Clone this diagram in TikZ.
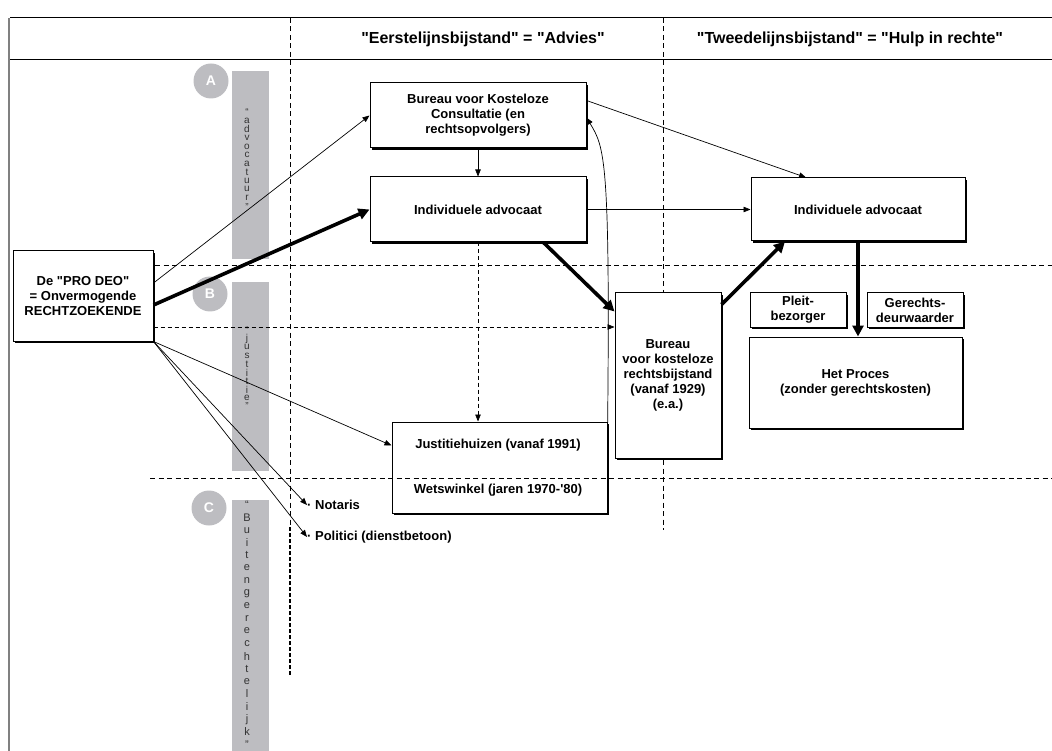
\documentclass[tikz,border=0pt]{standalone}
\usepackage{fontspec}
\setmainfont{Liberation Sans}[Ligatures=TeXOff]
\usetikzlibrary{arrows.meta,shadows}
\definecolor{bargrey}{HTML}{BDBDC1}

\begin{document}
\begin{tikzpicture}[x=1pt, y=-1pt,
        kader/.style={draw, line width=1pt, fill=white, align=center, inner sep=0pt,
            font=\bfseries\fontsize{13}{15}\selectfont,
            drop shadow={shadow xshift=1.6pt, shadow yshift=-1.6pt, opacity=1, fill=black}},
        txt/.style={font=\bfseries\fontsize{13}{15}\selectfont, align=center, inner sep=0pt},
        thinarrow/.style={-{Triangle[length=7pt,width=5.5pt]}, line width=0.7pt},
        dasharrow/.style={thinarrow, dash pattern=on 4pt off 3pt},
        bigarrow/.style={-{Triangle[length=11pt,width=11pt]}, line width=3.6pt},
        gridline/.style={dash pattern=on 5pt off 3.5pt, line width=0.8pt},
        tag/.style={circle, fill=bargrey, minimum size=35pt, inner sep=0pt, text=white,
            font=\bfseries\fontsize{14}{14}\selectfont},
        letter/.style={font=\fontsize{10}{10}\selectfont, text=black!80, inner sep=0pt}]
        \useasboundingbox (0,0) rectangle (1052,751);

        % Frame
        \draw[line width=1pt] (1052,18) -- (10,18);
        \draw[line width=1pt] (10,60) -- (1052,60);
        \draw[line width=1.6pt, black!50] (9,18) -- (9,751);

        % Grid
        \draw[gridline] (290,18) -- (290,527);
        \draw[gridline, line width=1.6pt, dash pattern=on 4pt off 2pt] (290,527) -- (290,675);
        \draw[gridline] (663,18) -- (663,530);
        \draw[gridline] (155,265) -- (1052,265);

        % Headers
        \node[txt, font=\bfseries\fontsize{16}{16}\selectfont] (hadvies) at (483,39) {"Eerstelijnsbijstand" = "Advies"};
        \node[txt, font=\bfseries\fontsize{16}{16}\selectfont] (hhulp) at (850,39) {"Tweedelijnsbijstand" = "Hulp in rechte"};

        % Bars
        \fill[bargrey] (232,71) rectangle (269,259);
        \fill[bargrey] (232,282) rectangle (269,471);
        \fill[bargrey] (232,500) rectangle (269,751);
        \node[tag] (tagA) at (211,81) {A};
        \node[tag] (tagB) at (210,294) {B};
        \node[tag] (tagC) at (209,508) {C};
        \foreach \ch [count=\i] in {“,a,d,v,o,c,a,t,u,u,r,”}
            \node[letter] (advl\i) at (247,{112+8.6*(\i-1)}) {\ch};
        \foreach \ch [count=\i] in {“,j,u,s,t,i,t,i,e,”}
            \node[letter] (jusl\i) at (247,{330+8.5*(\i-1)}) {\ch};
        \foreach \ch [count=\i] in {“,B,u,i,t,e,n,g,e,r,e,c,h,t,e,l,i,j,k,”}
            \node[letter, font=\fontsize{11}{11}\selectfont] (bgl\i) at (247,{505+12.6*(\i-1)}) {\ch};

        % Boxes
        \node[kader, minimum width=140pt, minimum height=90pt] (prodeo) at (83,296)
            {De "PRO DEO"\\= Onvermogende\\RECHTZOEKENDE};
        \node[kader, minimum width=216pt, minimum height=65pt] (consult) at (478,115.5)
            {Bureau voor Kosteloze\\Consultatie (en\\rechtsopvolgers)};
        \node[kader, minimum width=216pt, minimum height=65pt] (advA) at (478,209.5) {Individuele advocaat};
        \node[kader, minimum width=214pt, minimum height=63pt] (advB) at (858,209.5) {Individuele advocaat};
        \node[kader, minimum width=215pt, minimum height=91pt] (justitie) at (499.5,467.5) {};
        \node[txt] (jhuis) at (498,445) {Justitiehuizen (vanaf 1991)};
        \node[txt] (wwinkel) at (498,490) {Wetswinkel (jaren 1970-'80)};
        \node[kader, minimum width=106pt, minimum height=165pt] (bureau) at (668,375.5)
            {Bureau\\voor kosteloze\\rechtsbijstand\\(vanaf 1929)\\(e.a.)};
        \node[kader, minimum width=96pt, minimum height=34pt] (pleit) at (798,310) {Pleit-\\bezorger};
        \node[kader, minimum width=96pt, minimum height=34pt] (deurw) at (915,310) {Gerechts-\\deurwaarder};
        \node[kader, minimum width=213pt, minimum height=91pt] (proces) at (855.5,382.5)
            {Het Proces\\(zonder gerechtskosten)};
        \node[txt, anchor=west] (notaris) at (307,505) {· Notaris};
        \node[txt, anchor=west] (politici) at (307,537) {· Politici (dienstbetoon)};

        % Grid line through the Justitiehuizen box
        \draw[gridline] (150,478) -- (1052,478);

        % Arrows
        \draw[bigarrow] ([yshift=-9pt]prodeo.east) -- (advA.west);
        \draw[thinarrow] ([yshift=13pt]prodeo.east) -- (consult.west);
        \draw[dasharrow] ([yshift=-31pt]prodeo.east) -- ([yshift=-31pt]prodeo.east -| bureau.west);
        \draw[thinarrow] (prodeo.south east) -- ([yshift=22pt]justitie.west);
        \draw[thinarrow] (prodeo.south east) -- (notaris.west);
        \draw[thinarrow] (prodeo.south east) -- (politici.west);
        \draw[thinarrow] (consult.south) -- (advA.north);
        \draw[thinarrow] (advA.east) -- (advB.west);
        \draw[thinarrow] ([yshift=15pt]consult.east) -- ([xshift=-52pt]advB.north);
        \draw[thinarrow] ([yshift=-15pt]justitie.north east) .. controls +(3,-280) and +(18,30) .. ([yshift=-2pt]consult.east);
        \draw[dasharrow] (advA.south) -- (advA.south |- justitie.north);
        \draw[bigarrow] ([xshift=-43pt]advA.south east) -- ([yshift=-19pt]bureau.north west);
        \draw[bigarrow] ([yshift=-12pt]bureau.north east) -- ([xshift=-73pt]advB.south);
        \draw[bigarrow] (advB.south) -- (advB.south |- proces.north);
    \end{tikzpicture}
\end{document}
